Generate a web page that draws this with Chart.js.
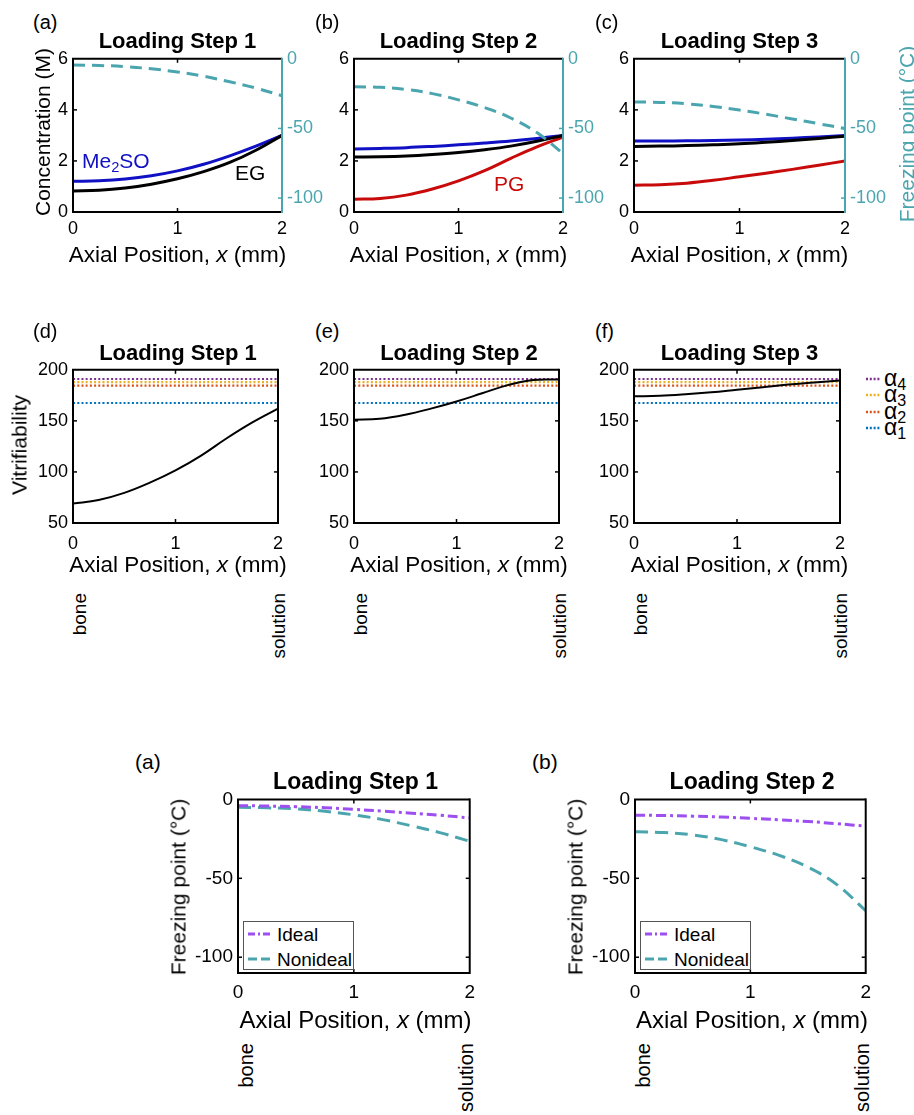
<!DOCTYPE html>
<html>
<head>
<meta charset="utf-8">
<script src="https://cdn.jsdelivr.net/npm/chart.js@4.4.1/dist/chart.umd.min.js"></script>
<style>
  html, body { margin: 0; padding: 0; background: #fff; }
  body { width: 914px; height: 1115px; position: relative; overflow: hidden;
         font-family: "Liberation Sans", Arial, Helvetica, sans-serif; color: #000; }
  canvas { position: absolute; }
  .t { position: absolute; white-space: nowrap; line-height: 1; }
  sub { font-size: 0.7em; vertical-align: -0.3em; line-height: 0; }
</style>
</head>
<body>
<script>
// ---- data ----
const xPos = [0, 0.25, 0.5, 0.75, 1, 1.25, 1.5, 1.75, 2];
const xTickVals = [0, 1, 2];
const concTickVals = [0, 2, 4, 6];
const fpTickVals = [-100, -50, 0];
const vitTickVals = [50, 100, 150, 200];
const stepTitles = ['Loading Step 1', 'Loading Step 2', 'Loading Step 3'];

// (a)-(c) concentration (M)
const me2so1 = [1.20, 1.22, 1.29, 1.42, 1.61, 1.87, 2.20, 2.58, 3.00];
const eg1 = [0.82, 0.85, 0.94, 1.09, 1.30, 1.58, 1.94, 2.42, 3.00];
const me2so2 = [2.47, 2.49, 2.52, 2.57, 2.63, 2.70, 2.78, 2.88, 3.00];
const eg2 = [2.15, 2.16, 2.19, 2.25, 2.33, 2.44, 2.58, 2.77, 3.00];
const pg2 = [0.50, 0.53, 0.66, 0.90, 1.22, 1.62, 2.10, 2.55, 2.93];
const me2so3 = [2.78, 2.78, 2.79, 2.80, 2.82, 2.85, 2.89, 2.94, 3.00];
const eg3 = [2.57, 2.58, 2.60, 2.63, 2.67, 2.73, 2.80, 2.88, 2.97];
const pg3 = [1.05, 1.07, 1.13, 1.24, 1.38, 1.52, 1.67, 1.83, 2.00];
// (a)-(c) freezing point (°C), right axis
const fp1 = [-4.5, -4.8, -5.6, -7.2, -9.5, -12.5, -16.5, -21.0, -26.5];
const fp2 = [-20.0, -20.5, -22.0, -25.0, -29.5, -35.0, -42.5, -53.0, -68.0];
const fp3 = [-31.0, -31.3, -32.3, -34.2, -36.8, -39.8, -43.2, -46.6, -50.0];

// (d)-(f) vitrifiability
const vit1 = [69, 72.5, 79.5, 89.5, 101.5, 116, 133, 148.5, 162];
const vit2 = [151, 152, 156, 162, 169, 177, 185, 190, 190.5];
const vit3 = [174, 174.5, 176, 178, 180.5, 183, 185.5, 187.5, 189.5];
const alphaNames = ['α<sub>4</sub>', 'α<sub>3</sub>', 'α<sub>2</sub>', 'α<sub>1</sub>'];
const alphaValues = [191, 188, 184.5, 167.5];

// lower figure: ideal vs nonideal freezing point (°C)
const ideal1 = [-4.0, -4.2, -4.6, -5.3, -6.3, -7.4, -8.7, -10.1, -11.7];
const nonideal1 = [-5.0, -5.3, -6.0, -7.5, -9.8, -12.8, -16.8, -21.2, -26.5];
const ideal2 = [-10.0, -10.2, -10.6, -11.2, -12.0, -12.9, -14.0, -15.4, -17.0];
const nonideal2 = [-20.5, -21.0, -22.5, -25.5, -30.0, -35.5, -43.0, -54.0, -70.5];

// ---- styles ----
const CYAN = '#4ba5ae';
const BLUE = '#1010c4';
const RED = '#c80a0a';
const VIOLET = '#9d4ff0';
const alphaColors = ['#7e2f8e', '#edb120', '#d95319', '#0072bd'];

Chart.defaults.font.family = '"Liberation Sans", Arial, Helvetica, sans-serif';
Chart.defaults.color = '#000';

function pts(ys) {
    return xPos.map((x, i) => ({ x: x, y: ys[i] }));
}
function flat(v) {
    return [{ x: xPos[0], y: v }, { x: xPos[xPos.length - 1], y: v }];
}
function series(data, color, width, dash, axis) {
    return {
        data: data, borderColor: color, borderWidth: width, borderDash: dash || [],
        pointRadius: 0, fill: false, tension: 0.4,
        yAxisID: axis || 'y', borderCapStyle: 'butt'
    };
}

// matlab-like box with small inward ticks
const boxPlugin = {
    id: 'box',
    afterDatasetsDraw(chart) {
        const { ctx, chartArea: a, scales } = chart;
        const rightColor = chart.options.plugins.box.rightColor;
        const L = 4;
        function seg(x1, y1, x2, y2) { ctx.beginPath(); ctx.moveTo(x1, y1); ctx.lineTo(x2, y2); ctx.stroke(); }
        ctx.save();
        ctx.lineWidth = 1.5;
        ctx.strokeStyle = '#000';
        scales.x.ticks.forEach(t => {
            const px = scales.x.getPixelForValue(t.value);
            if (px <= a.left + 1 || px >= a.right - 1) return;
            seg(px, a.bottom, px, a.bottom - L);
            seg(px, a.top, px, a.top + L);
        });
        scales.y.ticks.forEach(t => {
            const py = scales.y.getPixelForValue(t.value);
            if (py <= a.top + 1 || py >= a.bottom - 1) return;
            seg(a.left, py, a.left + L, py);
            if (!scales.y2) seg(a.right, py, a.right - L, py);
        });
        if (scales.y2) {
            ctx.strokeStyle = rightColor;
            scales.y2.ticks.forEach(t => {
                const py = scales.y2.getPixelForValue(t.value);
                if (py <= a.top + 1 || py >= a.bottom - 1) return;
                seg(a.right, py, a.right - L, py);
            });
        }
        ctx.lineWidth = 2;
        ctx.strokeStyle = '#000';
        ctx.beginPath();
        ctx.moveTo(a.right, a.top); ctx.lineTo(a.left, a.top);
        ctx.lineTo(a.left, a.bottom); ctx.lineTo(a.right, a.bottom);
        ctx.stroke();
        ctx.strokeStyle = rightColor;
        seg(a.right, a.top - 1, a.right, a.bottom + 1);
        ctx.restore();
    }
};

function makePanel(p) {
    const PT = 14;
    const cv = document.createElement('canvas');
    cv.width = p.r - p.l + p.ML + p.MR;
    cv.height = p.b - p.t + PT + p.MB;
    cv.style.left = (p.l - p.ML) + 'px';
    cv.style.top = (p.t - PT) + 'px';
    document.body.appendChild(cv);

    const scales = {
        x: {
            type: 'linear', min: 0, max: 2,
            grid: { display: false, drawTicks: false },
            border: { display: false },
            ticks: { font: { size: p.font }, padding: p.xPad, maxRotation: 0, color: '#000' },
            afterBuildTicks: s => { s.ticks = xTickVals.map(v => ({ value: v })); },
            afterFit: s => { s.height = p.MB; }
        },
        y: {
            type: 'linear', position: 'left', min: p.yMin, max: p.yMax,
            grid: { display: false, drawTicks: false },
            border: { display: false },
            ticks: { font: { size: p.font }, padding: 5, color: '#000' },
            afterBuildTicks: s => { s.ticks = p.yTicks.map(v => ({ value: v })); },
            afterFit: s => { s.width = p.ML; }
        }
    };
    if (p.y2) {
        scales.y2 = {
            type: 'linear', position: 'right', min: -110, max: 0,
            grid: { display: false, drawTicks: false },
            border: { display: false },
            ticks: { font: { size: p.font }, padding: 5, color: CYAN },
            afterBuildTicks: s => { s.ticks = fpTickVals.map(v => ({ value: v })); },
            afterFit: s => { s.width = p.MR; }
        };
    }
    new Chart(cv, {
        type: 'line',
        data: { datasets: p.datasets },
        options: {
            responsive: false, animation: false, events: [],
            layout: { padding: { top: PT, left: 0, bottom: 0, right: p.y2 ? 0 : p.MR } },
            scales: scales,
            plugins: { legend: { display: false }, tooltip: { enabled: false }, box: { rightColor: p.y2 ? CYAN : '#000' } }
        },
        plugins: [boxPlugin]
    });
}

function txt(html, x, y, size, style) {
    const d = document.createElement('div');
    d.className = 't';
    d.innerHTML = html;
    d.style.left = x + 'px';
    d.style.top = y + 'px';
    d.style.fontSize = size + 'px';
    Object.assign(d.style, style || {});
    document.body.appendChild(d);
    return d;
}
const CENTER = { transform: 'translate(-50%,-50%)' };
const LEFTMID = { transform: 'translate(0,-50%)' };
const VCENTER = { writingMode: 'vertical-rl', transform: 'translate(-50%,-50%) rotate(180deg)' };
const VTOP = { writingMode: 'vertical-rl', transform: 'translate(-50%,0) rotate(180deg)' };
const xTitle = 'Axial Position, <i>x</i> (mm)';

// ---- row 1: concentration + freezing point ----
const row1 = [
    { l: 73, r: 282, sets: [series(pts(fp1), CYAN, 3, [12, 7], 'y2'), series(pts(eg1), '#000', 3), series(pts(me2so1), BLUE, 3)] },
    { l: 354, r: 563, sets: [series(pts(fp2), CYAN, 3, [12, 7], 'y2'), series(pts(eg2), '#000', 3), series(pts(me2so2), BLUE, 3), series(pts(pg2), RED, 3)] },
    { l: 634, r: 845, sets: [series(pts(fp3), CYAN, 3, [12, 7], 'y2'), series(pts(eg3), '#000', 3), series(pts(me2so3), BLUE, 3), series(pts(pg3), RED, 3)] }
];
row1.forEach(c => {
    makePanel({ l: c.l, r: c.r, t: 57, b: 212, ML: 45, MR: 45, MB: 40, font: 18, xPad: 6,
        yMin: 0, yMax: 6, yTicks: concTickVals, y2: true, datasets: c.sets });
});

// ---- row 2: vitrifiability ----
const row2 = [{ l: 73, r: 283, v: vit1 }, { l: 354, r: 564, v: vit2 }, { l: 634, r: 845, v: vit3 }];
row2.forEach(c => {
    const sets = [series(pts(c.v), '#000', 2)];
    alphaValues.forEach((a, k) => sets.push(series(flat(a), alphaColors[k], 2.2, [2, 2.2])));
    makePanel({ l: c.l, r: c.r, t: 368, b: 523, ML: 45, MR: 10, MB: 40, font: 18, xPad: 10,
        yMin: 50, yMax: 200, yTicks: vitTickVals, y2: false, datasets: sets });
});

// ---- row 3: ideal vs nonideal ----
const row3 = [{ l: 238, r: 473, id: ideal1, nd: nonideal1 }, { l: 635, r: 869, id: ideal2, nd: nonideal2 }];
row3.forEach(c => {
    makePanel({ l: c.l, r: c.r, t: 797, b: 973, ML: 50, MR: 10, MB: 40, font: 19, xPad: 8,
        yMin: -110, yMax: 0, yTicks: fpTickVals, y2: false,
        datasets: [series(pts(c.id), VIOLET, 3, [10, 4, 3, 4]), series(pts(c.nd), CYAN, 3, [13, 7])] });
});

// ---- text ----
// row 1
['(a)', '(b)', '(c)'].forEach((s, i) => txt(s, [33, 315, 595][i], 21.5, 20, LEFTMID));
row1.forEach((c, i) => {
    txt(stepTitles[i], (c.l + c.r) / 2, 41, 22, Object.assign({ fontWeight: 'bold' }, CENTER));
    txt(xTitle, (c.l + c.r) / 2, 255, 22.5, CENTER);
});
txt('Concentration (M)', 42, 132, 21, VCENTER);
txt('Freezing point (°C)', 906, 134, 21, Object.assign({ color: CYAN }, VCENTER));
txt('Me<sub>2</sub>SO', 82, 160, 21, Object.assign({ color: BLUE }, LEFTMID));
txt('EG', 235, 172, 21, LEFTMID);
txt('PG', 494, 183, 21, Object.assign({ color: RED }, LEFTMID));

// row 2
['(d)', '(e)', '(f)'].forEach((s, i) => txt(s, [33, 315, 595][i], 331, 20, LEFTMID));
row2.forEach((c, i) => {
    txt(stepTitles[i], (c.l + c.r) / 2, 353, 22, Object.assign({ fontWeight: 'bold' }, CENTER));
    txt(xTitle, (c.l + c.r) / 2, 565, 22.5, CENTER);
    txt('bone', c.l + 6, 593, 19, VTOP);
    txt('solution', c.r - 5, 593, 19, VTOP);
});
txt('Vitrifiability', 19, 445, 21, VCENTER);
alphaNames.forEach((n, k) => {
    const y = 379 + k * 16.4;
    txt('<svg width="15" height="6"><line x1="0" y1="3" x2="15" y2="3" stroke="' + alphaColors[k] +
        '" stroke-width="2.5" stroke-dasharray="2 1.8"/></svg>', 866, y, 10, LEFTMID);
    txt(n, 884, y - 1, 23, LEFTMID);
});

// row 3
['(a)', '(b)'].forEach((s, i) => txt(s, [135, 532][i], 761, 21, LEFTMID));
row3.forEach((c, i) => {
    txt(stepTitles[i], (c.l + c.r) / 2, 781, 23, Object.assign({ fontWeight: 'bold' }, CENTER));
    txt(xTitle, (c.l + c.r) / 2, 1020, 24, CENTER);
    txt('bone', c.l + 8, 1043, 20, VTOP);
    txt('solution', c.r - 7, 1043, 20, VTOP);
    txt('Freezing point (°C)', c.l - 60, 887, 21, VCENTER);
    const box = txt('', c.l + 5, 921, 19, { width: '109px', height: '47px', border: '1.5px solid #555', background: '#fff' });
    box.innerHTML =
        '<svg width="24" height="6" style="position:absolute;left:4px;top:9px"><line x1="0" y1="3" x2="24" y2="3" stroke="' + VIOLET + '" stroke-width="3" stroke-dasharray="7 3 2 3"/></svg>' +
        '<span style="position:absolute;left:33px;top:3px">Ideal</span>' +
        '<svg width="24" height="6" style="position:absolute;left:4px;top:34px"><line x1="0" y1="3" x2="24" y2="3" stroke="' + CYAN + '" stroke-width="3" stroke-dasharray="9 4"/></svg>' +
        '<span style="position:absolute;left:33px;top:28px">Nonideal</span>';
});
</script>
</body>
</html>
